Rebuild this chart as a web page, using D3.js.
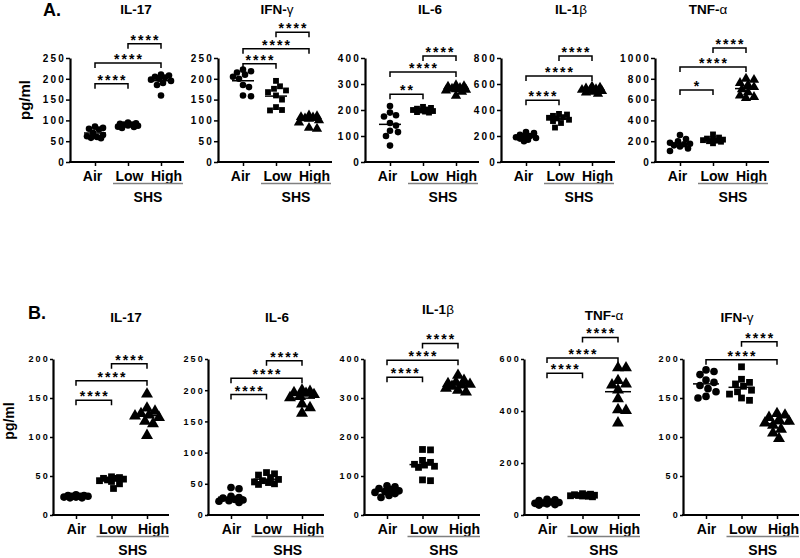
<!DOCTYPE html>
<html>
<head>
<meta charset="utf-8">
<script src="https://cdn.jsdelivr.net/npm/d3@7"></script>
<style>
  body { margin: 0; background: #fff; }
  svg { font-family: "Liberation Sans", Arial, sans-serif; }
</style>
</head>
<body>
<div id="chart"></div>
<script>
// groups on every x axis
const groups = ["Air", "Low", "High"];

// ---- panel A (top row) ----
const aTitles = ["IL-17", "IFN-γ", "IL-6", "IL-1β", "TNF-α"];
const aMax = [250, 250, 400, 800, 1000];
const aStep = [50, 50, 100, 200, 200];

const aIL17 = [
  [85, 82, 80, 78, 70, 65, 62, 60, 58, 57],
  [95, 93, 92, 90, 90, 88, 87, 85, 84, 82],
  [210, 208, 205, 203, 200, 198, 195, 190, 185, 160]
];
const aIFNg = [
  [222, 218, 215, 210, 205, 200, 185, 180, 160, 158],
  [195, 182, 176, 172, 168, 160, 150, 132, 125, 124],
  [112, 110, 108, 107, 105, 104, 100, 95, 82, 80]
];
const aIL6 = [
  [215, 190, 180, 175, 150, 140, 120, 115, 100, 63],
  [212, 208, 205, 202, 200, 198, 196, 194, 192, 190],
  [295, 292, 290, 285, 282, 280, 278, 275, 270, 255]
];
const aIL1b = [
  [230, 222, 210, 200, 195, 190, 185, 180, 172, 160],
  [370, 365, 355, 345, 340, 335, 325, 315, 300, 265],
  [580, 572, 565, 560, 555, 550, 545, 540, 535, 525]
];
const aTNFa = [
  [260, 220, 200, 185, 175, 170, 160, 150, 130, 105],
  [265, 235, 225, 220, 215, 210, 205, 200, 195, 180],
  [800, 790, 760, 740, 720, 700, 670, 640, 625, 615]
];
const aValues = [aIL17, aIFNg, aIL6, aIL1b, aTNFa];

// significance brackets: [from, to, height in pg/ml, label]
const aBrackets = [
  [["Air", "Low", 188, "****"], ["Air", "High", 238, "****"], ["Low", "High", 284, "****"]],
  [["Air", "Low", 236, "****"], ["Air", "High", 272, "****"], ["Low", "High", 312, "****"]],
  [["Air", "Low", 261, "**"], ["Air", "High", 346, "****"], ["Low", "High", 408, "****"]],
  [["Air", "Low", 475, "****"], ["Air", "High", 661, "****"], ["Low", "High", 815, "****"]],
  [["Air", "Low", 692, "*"], ["Air", "High", 913, "****"], ["Low", "High", 1096, "****"]]
];

// ---- panel B (bottom row) ----
const bTitles = ["IL-17", "IL-6", "IL-1β", "TNF-α", "IFN-γ"];
const bMax = [200, 250, 400, 600, 200];
const bStep = [50, 50, 100, 200, 50];

const bIL17 = [
  [26, 25, 25, 24, 24, 24, 23, 23, 22, 22],
  [49, 48, 47, 47, 46, 45, 44, 43, 40, 34],
  [155, 137, 133, 130, 128, 127, 125, 120, 117, 102]
];
const bIL6 = [
  [44, 42, 30, 28, 27, 25, 24, 23, 22, 20],
  [68, 66, 64, 60, 57, 55, 53, 52, 50, 49],
  [200, 198, 196, 195, 193, 190, 188, 178, 172, 163]
];
const bIL1b = [
  [75, 72, 68, 65, 62, 60, 58, 55, 50, 45],
  [168, 167, 140, 135, 130, 128, 125, 122, 90, 88],
  [358, 345, 340, 337, 335, 333, 330, 325, 320, 315]
];
const bTNFa = [
  [60, 58, 55, 50, 48, 46, 45, 43, 40, 38],
  [82, 80, 78, 77, 76, 75, 74, 73, 72, 70],
  [566, 566, 517, 504, 500, 481, 447, 405, 402, 354]
];
const bIFNg = [
  [186, 184, 180, 173, 170, 166, 162, 158, 152, 150],
  [190, 174, 170, 168, 165, 160, 158, 155, 150, 147],
  [130, 128, 125, 122, 120, 118, 115, 110, 105, 98]
];
const bValues = [bIL17, bIL6, bIL1b, bTNFa, bIFNg];

const bBrackets = [
  [["Air", "Low", 147, "****"], ["Air", "High", 172, "****"], ["Low", "High", 194, "****"]],
  [["Air", "Low", 193, "****"], ["Air", "High", 219, "****"], ["Low", "High", 247, "****"]],
  [["Air", "Low", 353, "****"], ["Air", "High", 397, "****"], ["Low", "High", 440, "****"]],
  [["Air", "Low", 545, "****"], ["Air", "High", 604, "****"], ["Low", "High", 683, "****"]],
  [["Air", "High", 199, "****"], ["Low", "High", 222, "****"]]
];

const svg = d3.select("#chart").append("svg")
  .attr("width", 800)
  .attr("height", 558);

svg.append("rect").attr("width", 800).attr("height", 558).attr("fill", "#fff");

// layout of each row
const rowA = {
  axisX: [70, 218, 365, 501, 655], top: 58, bottom: 162, off: [25, 91], len: 114,
  titleDx: [66, 59, 65, 70, 53], titleY: [14, 14, 14, 14, 14],
  tickFont: 10, tickSpacing: 2.2, tickSize: 4, tickPad: 0,
  sym: 34, meanW: 22, spread: 10, labelDx: [-3, 1, 5]
};
const rowB = {
  axisX: [53, 208, 364, 524, 683], top: 359, bottom: 515, off: [23, 94], len: 116,
  titleDx: [73, 69, 74, 80, 54], titleY: [322, 322, 314, 320, 322],
  tickFont: 9, tickSpacing: 2.2, tickSize: 3, tickPad: 0,
  sym: 46, meanW: 26, spread: 12, labelDx: [0, 1, 6]
};

const shapes = [d3.symbolCircle, d3.symbolSquare, d3.symbolTriangle];

// spread points sideways inside a narrow column, letting them overlap when crowded
function swarm(vals, cx, y, diam, spread) {
  const placed = [];
  vals.slice().sort((a, b) => b - a).forEach(v => {
    const py = y(v);
    let best = null, bestD = -1;
    for (let k = 0; ; k++) {
      const dx = (k % 2 ? 1 : -1) * Math.ceil(k / 2) * 2;
      if (Math.abs(dx) > spread) break;
      const px = cx + dx;
      const d = placed.length ? d3.min(placed, p => Math.hypot(p.x - px, p.y - py)) : Infinity;
      if (d >= diam * 0.95) { best = px; bestD = d; break; }
      if (d > bestD) { best = px; bestD = d; }
    }
    placed.push({ x: best, y: py, v: v });
  });
  return placed;
}

function addTitle(g, text, x, y) {
  const t = g.append("text")
    .attr("x", x).attr("y", y)
    .attr("text-anchor", "middle")
    .style("font-size", "13.5px")
    .style("font-weight", "bold");
  const m = text.match(/[α-ω]/);
  if (m) {
    t.append("tspan").text(text.slice(0, m.index));
    t.append("tspan").style("font-weight", "normal").text(m[0]);
  } else {
    t.text(text);
  }
}

function drawPanel(row, i, title, max, step, vals, brackets, allCircles) {
  const g = svg.append("g");
  const ax = row.axisX[i];

  const y = d3.scaleLinear().domain([0, max]).range([row.bottom, row.top]);
  const x = d3.scalePoint().domain(groups).range([ax + row.off[0], ax + row.off[1]]);

  // y axis
  const yAxis = g.append("g")
    .attr("transform", "translate(" + ax + ",0)")
    .call(d3.axisLeft(y)
      .tickValues(d3.range(0, max + 1, step))
      .tickFormat(d3.format("d"))
      .tickSize(row.tickSize)
      .tickSizeOuter(0)
      .tickPadding(row.tickPad));
  yAxis.select(".domain").attr("stroke-width", 2.2);
  yAxis.selectAll(".tick line").attr("stroke-width", 1.5);
  yAxis.selectAll(".tick text")
    .style("font-size", row.tickFont + "px")
    .style("font-weight", "bold")
    .style("letter-spacing", row.tickSpacing + "px")
    .attr("fill", "#000");

  // x axis
  g.append("line")
    .attr("x1", ax - 1).attr("x2", ax + row.len)
    .attr("y1", y(0)).attr("y2", y(0))
    .attr("stroke", "#000").attr("stroke-width", 2.2);
  const xAxis = g.append("g")
    .attr("transform", "translate(0," + y(0) + ")")
    .call(d3.axisBottom(x).tickSize(4).tickPadding(5));
  xAxis.select(".domain").remove();
  xAxis.selectAll(".tick line").attr("stroke-width", 1.5);
  xAxis.selectAll(".tick text")
    .attr("dx", (d, j) => row.labelDx[j])
    .style("font-size", "14px")
    .style("font-weight", "bold")
    .attr("fill", "#000");

  // SHS underline
  const u1 = x("Low") - 15, u2 = x("High") + 22;
  g.append("line")
    .attr("x1", u1).attr("x2", u2)
    .attr("y1", y(0) + 21.5).attr("y2", y(0) + 21.5)
    .attr("stroke", "#808080").attr("stroke-width", 1.5);
  g.append("text")
    .attr("x", (u1 + u2) / 2)
    .attr("y", y(0) + 40)
    .attr("text-anchor", "middle")
    .style("font-size", "14px")
    .style("font-weight", "bold")
    .text("SHS");

  addTitle(g, title, ax + row.titleDx[i], row.titleY[i]);

  // points and means
  const diam = Math.sqrt(row.sym / Math.PI) * 2;
  groups.forEach((grp, j) => {
    const pts = swarm(vals[j], x(grp), y, diam, row.spread);
    const shape = allCircles ? d3.symbolCircle : shapes[j];
    g.selectAll(null)
      .data(pts)
      .enter()
      .append("path")
      .attr("transform", d => "translate(" + d.x + "," + d.y + ")")
      .attr("d", d3.symbol().type(shape).size(shape === d3.symbolTriangle ? row.sym * 1.35 : row.sym))
      .attr("fill", "#000");
    const m = d3.mean(vals[j]);
    g.append("line")
      .attr("x1", x(grp) - row.meanW / 2).attr("x2", x(grp) + row.meanW / 2)
      .attr("y1", y(m)).attr("y2", y(m))
      .attr("stroke", "#000").attr("stroke-width", 1.5);
  });

  // brackets
  brackets.forEach(b => {
    const x1 = x(b[0]), x2 = x(b[1]), yy = y(b[2]);
    g.append("path")
      .attr("d", "M" + x1 + "," + (yy + 5) + "V" + yy + "H" + x2 + "V" + (yy + 5))
      .attr("fill", "none")
      .attr("stroke", "#000")
      .attr("stroke-width", 1.5);
    g.append("text")
      .attr("x", (x1 + x2) / 2 + 1)
      .attr("y", yy + 1)
      .attr("text-anchor", "middle")
      .style("font-size", "14px")
      .style("font-weight", "bold")
      .style("letter-spacing", "2px")
      .text(b[3]);
  });
}

aTitles.forEach((t, i) => drawPanel(rowA, i, t, aMax[i], aStep[i], aValues[i], aBrackets[i], i === 0));
bTitles.forEach((t, i) => drawPanel(rowB, i, t, bMax[i], bStep[i], bValues[i], bBrackets[i], false));

// row labels and y titles
svg.append("text").attr("x", 43).attr("y", 16)
  .style("font-size", "18px").style("font-weight", "bold").text("A.");
svg.append("text").attr("x", 28).attr("y", 319)
  .style("font-size", "18px").style("font-weight", "bold").text("B.");

svg.append("text")
  .attr("transform", "translate(30,100) rotate(-90)")
  .attr("text-anchor", "middle")
  .style("font-size", "15px").style("font-weight", "bold")
  .text("pg/ml");
svg.append("text")
  .attr("transform", "translate(14,421) rotate(-90)")
  .attr("text-anchor", "middle")
  .style("font-size", "14px").style("font-weight", "bold")
  .text("pg/ml");
</script>
</body>
</html>
